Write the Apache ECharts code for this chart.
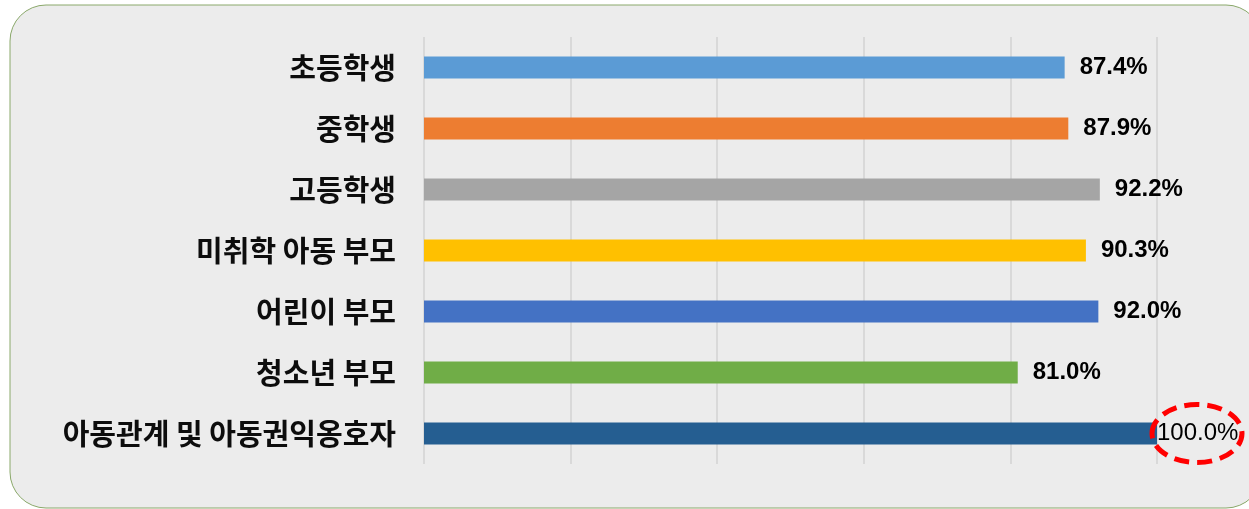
<!DOCTYPE html>
<html>
<head>
<meta charset="utf-8">
<script src="https://cdn.jsdelivr.net/npm/echarts@6/dist/echarts.min.js"></script>
<style>
  html, body { margin: 0; padding: 0; background: #ffffff; }
  #chart { width: 1249px; height: 509px; }
</style>
</head>
<body>
<div id="chart"></div>
<script>
// Survey groups, top to bottom
const categories = [
  '초등학생',
  '중학생',
  '고등학생',
  '미취학 아동 부모',
  '어린이 부모',
  '청소년 부모',
  '아동관계 및 아동권익옹호자'
];
// Share (%) for each group
const values = [87.4, 87.9, 92.2, 90.3, 92.0, 81.0, 100.0];
// Bar colour for each group
const barColors = ['#5b9bd5', '#ed7d31', '#a5a5a5', '#ffc000', '#4472c4', '#70ad47', '#255e91'];
// Group whose value is circled
const highlightIndex = 6;

const chart = echarts.init(document.getElementById('chart'), null, { renderer: 'canvas' });

// category axis runs top to bottom
const yCats = categories.slice().reverse();
const seriesData = values.map((v, i) => {
  const item = {
    value: v,
    itemStyle: { color: barColors[i] }
  };
  if (i === highlightIndex) {
    item.label = {
      fontWeight: 'normal',
      distance: 0
    };
  }
  return item;
}).reverse();

const panel = {
  type: 'rect',
  z: -10,
  silent: true,
  shape: { x: 10, y: 5, width: 1252, height: 503, r: 36 },
  style: { fill: '#ececec', stroke: '#8aa86a', lineWidth: 1 }
};

chart.setOption({
  animation: false,
  backgroundColor: '#ffffff',
  graphic: [panel],
  grid: { left: 424, right: 92, top: 37, bottom: 45 },
  xAxis: {
    type: 'value',
    min: 0,
    max: 100,
    interval: 20,
    axisLine: { show: false },
    axisTick: { show: false },
    axisLabel: { show: false },
    splitLine: { show: true, lineStyle: { color: '#d9d9d9', width: 2 } }
  },
  yAxis: {
    type: 'category',
    data: yCats,
    axisLine: { show: false },
    axisTick: { show: false },
    axisLabel: {
      margin: 28,
      color: '#0d0d0d',
      fontSize: 29,
      fontWeight: 'bold',
      fontFamily: '"Noto Sans CJK KR", sans-serif'
    }
  },
  series: [{
    type: 'bar',
    data: seriesData,
    barWidth: 22,
    label: {
      show: true,
      position: 'right',
      distance: 15,
      color: '#000000',
      fontSize: 24,
      fontWeight: 'bold',
      fontFamily: '"Liberation Sans", Arial, sans-serif',
      formatter: p => p.value.toFixed(1) + '%'
    }
  }]
});

// Dashed red ellipse around the highlighted value label
const hv = values[highlightIndex];
const end = chart.convertToPixel({ gridIndex: 0 }, [hv, categories[highlightIndex]]);
chart.setOption({
  graphic: [panel, {
    type: 'ellipse',
    z: 100,
    silent: true,
    shape: { cx: end[0] + 40, cy: end[1], rx: 45, ry: 29 },
    style: { fill: null, stroke: '#ff0000', lineWidth: 5, lineDash: [15, 8] }
  }]
});
</script>
</body>
</html>
